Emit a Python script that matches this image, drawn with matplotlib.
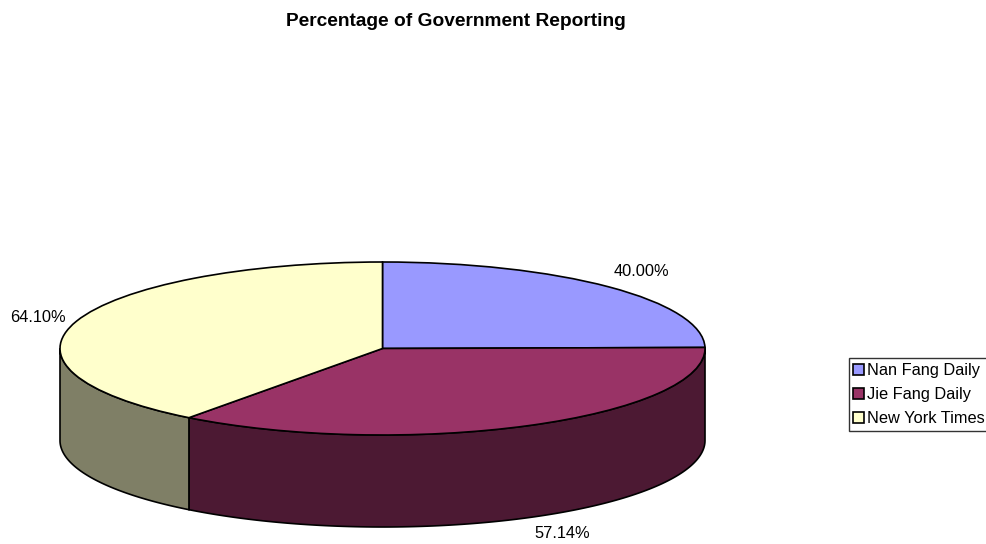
import numpy as np
import matplotlib
matplotlib.use("Agg")
import matplotlib.pyplot as plt

plt.rcParams['font.family'] = ['Liberation Sans', 'DejaVu Sans']

papers = ['Nan Fang Daily', 'Jie Fang Daily', 'New York Times']
percentages = [40.00, 57.14, 64.10]
top_colors = ['#9999FF', '#993366', '#FFFFCC']
side_colors = ['#4C4C7F', '#4C1933', '#7F7F66']

W, H = 986, 544
# ellipse of the pie top, in pixels
left, right, top, bottom = 60, 705, 262, 435
depth = 92 / ((bottom - top) / 2)

fig = plt.figure(figsize=(W / 100, H / 100), dpi=100)
ax = fig.add_axes([left / W, 1 - bottom / H, (right - left) / W, (bottom - top) / H])

# slice boundaries going clockwise from 12 o'clock
shares = np.array(percentages) / sum(percentages) * 360
ends = 90 - np.cumsum(shares)
starts = ends + shares

# side wall, only the part facing the viewer (-180 to 0 degrees)
for a0, a1, col in zip(starts, ends, side_colors):
    lo, hi = max(a1, -180), min(a0, 0)
    if hi <= lo:
        continue
    t = np.radians(np.linspace(lo, hi, 120))
    xs = np.concatenate([np.cos(t), np.cos(t[::-1])])
    ys = np.concatenate([np.sin(t), np.sin(t[::-1]) - depth])
    ax.fill(xs, ys, facecolor=col, edgecolor='black', linewidth=1.2, clip_on=False, zorder=1)

wedges, _ = ax.pie(percentages, colors=top_colors, startangle=90, counterclock=False,
                   radius=1, wedgeprops={'edgecolor': 'black', 'linewidth': 1.2, 'zorder': 2})
for w in wedges:
    w.set_clip_on(False)
ax.set_aspect('auto')
ax.set_xlim(-1, 1)
ax.set_ylim(-1, 1)
ax.axis('off')

def put_text(x, y, s, **kw):
    fig.text(x / W, 1 - y / H, s, va='center', ha='center', color='black', **kw)

put_text(456, 21, 'Percentage of Government Reporting', fontsize=13.8, fontweight='bold')
for (x, y), p in zip([(641.5, 272), (562.5, 533), (37.5, 317)], percentages):
    put_text(x, y, f'{p:.2f}%', fontsize=11.8)

leg = fig.legend(wedges, papers, loc='upper left', bbox_to_anchor=(848.5 / W, 1 - 358 / H),
                 bbox_transform=fig.transFigure, fontsize=11.8, frameon=True, fancybox=False,
                 edgecolor='#333333', framealpha=1, borderpad=0.3, labelspacing=0.55,
                 handlelength=0.65, handleheight=0.65, handletextpad=0.2, borderaxespad=0)
leg.get_frame().set_linewidth(1.0)

fig.savefig('out.png', dpi=100, facecolor='white')
